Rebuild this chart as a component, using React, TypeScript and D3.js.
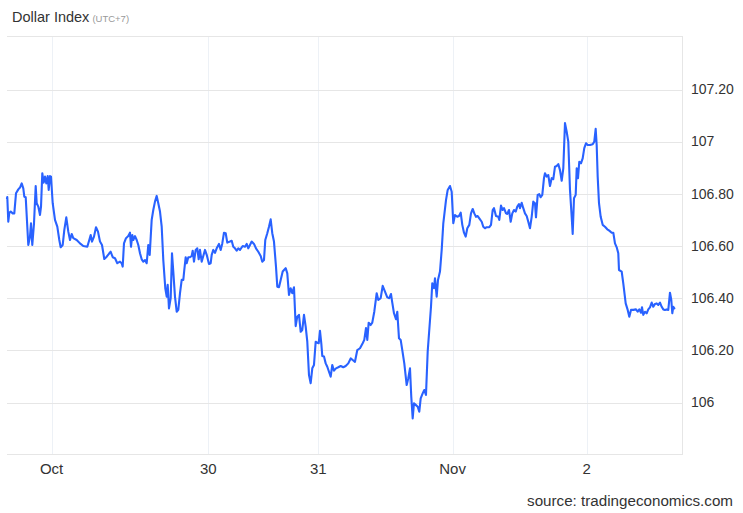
import React from "react";
import * as d3 from "d3";

const timeIndex = [
0,0.13,0.58,1.03,1.66,2.56,3.27,4.04,5.07,5.83,
6.59,7.31,7.76,8.39,9.55,10.31,10.76,11.34,12.11,12.87,
13.32,14.04,14.8,15.25,15.83,16.46,17.04,17.62,18.25,18.7,
19.28,19.73,20.49,21.52,22.56,23.45,24.08,24.98,25.69,26.59,
27.49,28.25,29.01,29.73,31.25,32.73,34.21,36.01,36.9,37.53,
38.11,39.01,39.91,40.8,41.7,42.6,43.63,44.71,45.87,46.5,
47.4,48.43,49.46,50.67,51.43,51.88,52.46,53.36,54.39,55.15,
55.6,56.18,56.63,57.4,58.16,58.88,59.64,60.4,61.12,61.88,
62.64,63.36,63.99,64.88,65.6,66.36,67.13,67.84,68.61,69.37,
70.09,70.98,71.61,72.06,72.64,73.4,73.99,74.57,75.33,76.1,
76.81,77.58,78.34,79.06,79.5,80.13,80.58,81.3,82.06,82.82,
83.27,83.85,84.61,85.33,85.96,86.54,87.3,88.02,88.78,89.55,
90.58,91.34,91.79,92.51,93.27,94.03,95.06,95.82,96.54,97.3,
98.07,98.78,99.99,100.76,101.47,102.24,103,103.72,104.48,105.69,
106.72,107.48,108.2,108.96,109.72,110.76,111.65,112.69,113.76,114.48,
115.24,115.82,116.72,117.48,118.24,118.96,119.72,120.62,121.21,121.97,
122.73,123.63,
124.97,125.69,126.45,127.21,127.93,128.69,129.45,130.17,130.93,131.7,
132.41,133.18,133.94,134.66,135.42,136.18,136.9,137.66,138.42,139.14,
139.77,140.35,140.94,141.39,142.15,142.91,143.63,144.39,145.15,145.87,
146.63,147.53,148.56,149.64,150.8,151.88,153.04,154.12,155.01,156.04,
157.08,158.29,159.5,160.22,160.98,161.56,162.19,163.09,163.8,164.7,
165.78,166.5,167.57,168.47,169.5,170.53,171.43,172.19,172.77,173.54,
174.43,175.02,175.78,176.54,177.26,178.16,179.23,179.95,180.71,181.29,
181.92,182.5,183.4,184.16,184.88,185.51,186.4,187.12,187.88,188.65,
189.36,190.13,190.71,191.47,191.92,192.68,193.27,194.16,194.93,
195.65,196.86,197.62,198.65,199.41,200.13,200.89,201.92,202.68,203.45,
204.17,204.93,205.69,206.41,207.31,208.07,208.83,209.55,210.31,211.07,
211.79,212.87,213.58,214.35,215.11,216.28,217.04,217.8,218.38,219.28,
220.31,220.76,221.52,222.28,222.87,223.76,224.35,225.11,225.87,226.59,
227.35,228.11,228.83,229.59,230.04,230.8,231.52,232.28,233.04,233.76,
234.52,235.28,236,236.76,237.21,237.97,238.69,239.32,240.04,240.8,
241.25,242.01,242.73,243.49,244.25,244.97,245.74,246.5,247.22,247.98,
248.74,249.46,250.22,250.98,251.7,252.46,253.22,253.67,254.26,255.02,
255.47,256.05,256.63,257.39,258.15,258.87,259.64,260.4,261.43,262.64,
263.36,263.98,264.43,264.88,265.47,266.23,267.12,268.15,269.19,270.09,
271.16,271.88,272.64,273.41,274.12,
274.44,275.65,276.36,277.44,278.34,279.06,279.82,280.85,282.06,282.82,
283.54,284.3,284.75,285.33,286.09,286.85,287.57,288.33,289.1,289.81,
290.58,291.34,292.06,292.82,293.58,294.3,295.06,295.82,296.54,297.3,
297.89,298.34,298.79,299.24
];

const dollarIndex = [
106.783,106.788,106.693,106.727,106.732,106.725,106.725,106.802,106.817,106.824,
106.84,106.821,106.789,106.787,106.604,106.636,106.687,106.604,106.687,106.83,
106.764,106.751,106.719,106.751,106.879,106.843,106.866,106.84,106.868,106.815,
106.868,106.866,106.764,106.7,106.674,106.623,106.595,106.604,106.661,106.71,
106.655,106.623,106.646,106.63,106.623,106.61,106.6,106.597,106.623,106.642,
106.617,106.636,106.672,106.655,106.617,106.604,106.55,106.559,106.572,106.578,
106.557,106.553,106.534,106.54,106.534,106.521,106.61,106.63,106.638,106.651,
106.597,106.642,106.623,106.638,106.623,106.604,106.572,106.549,106.54,106.546,
106.534,106.604,106.566,106.7,106.738,106.77,106.792,106.764,106.732,106.674,
106.546,106.438,106.406,106.451,106.361,106.4,106.572,106.502,106.406,106.348,
106.355,106.419,106.47,106.47,106.508,106.557,106.534,106.557,106.557,106.562,
106.582,106.54,106.585,106.591,106.549,106.585,106.54,106.562,106.585,106.566,
106.531,106.534,106.566,106.585,106.574,106.591,106.608,106.585,106.61,106.651,
106.649,106.613,106.617,106.62,106.597,106.591,106.582,106.591,106.585,106.6,
106.597,106.608,106.591,106.604,106.617,106.608,106.591,106.578,106.562,106.54,
106.546,106.623,106.649,106.674,106.702,106.649,106.617,106.521,106.444,106.442,
106.47,106.502,
106.515,106.495,106.412,106.438,106.419,106.442,106.293,106.329,106.336,106.271,
106.278,106.336,106.291,106.233,106.105,106.074,106.131,106.144,106.233,106.229,
106.227,106.275,106.227,106.178,106.176,106.15,106.137,106.118,106.099,106.144,
106.122,106.131,106.135,106.14,106.135,106.14,106.15,106.169,106.163,106.156,
106.201,106.208,106.227,106.24,106.285,106.24,106.306,106.297,106.306,106.348,
106.419,106.393,106.4,106.447,106.425,106.403,106.4,106.416,106.383,106.342,
106.319,106.348,106.246,106.24,106.201,106.15,106.067,106.093,106.131,106.022,
105.939,105.997,105.99,105.984,105.965,106.016,106.035,106.048,106.029,106.195,
106.278,106.367,106.457,106.438,106.476,106.406,106.47,106.502,106.585,
106.687,106.776,106.815,106.83,106.808,106.687,106.719,106.712,106.715,106.728,
106.681,106.651,106.636,106.668,106.681,106.725,106.742,106.725,106.712,106.715,
106.706,106.693,106.674,106.668,106.672,106.672,106.681,106.738,106.745,106.715,
106.712,106.7,106.755,106.738,106.745,106.725,106.723,106.738,106.693,106.725,
106.738,106.732,106.751,106.761,106.745,106.766,106.745,106.725,106.715,106.693,
106.668,106.712,106.77,106.764,106.71,106.796,106.799,106.787,106.796,106.86,
106.879,106.866,106.872,106.83,106.86,106.856,106.904,106.907,106.914,106.891,
106.85,106.898,107.071,107.038,107,106.815,106.712,106.646,106.783,106.796,
106.898,106.86,106.923,106.917,106.936,106.975,106.994,106.987,106.987,106.99,
107,107.049,106.987,106.866,106.764,106.712,106.681,106.674,106.664,106.659,
106.651,106.651,106.61,106.595,106.572,
106.508,106.502,106.457,106.38,106.355,106.329,106.355,106.355,106.357,106.348,
106.357,106.344,106.365,106.336,106.348,106.342,106.357,106.365,106.383,106.367,
106.378,106.38,106.374,106.383,106.367,106.357,106.355,106.357,106.355,106.421,
106.393,106.342,106.367,106.361
];

const xTickLabels = ["Oct", "30", "31", "Nov", "2"];
const xTickPositions = [20, 90.3, 139.6, 199.8, 259.9];

const yTickValues = [106, 106.2, 106.4, 106.6, 106.8, 107, 107.2];
const yTickLabels = ["106", "106.20", "106.40", "106.60", "106.80", "107", "107.20"];

const titleText = "Dollar Index";
const subtitleText = "(UTC+7)";
const sourceText = "source: tradingeconomics.com";

export default function App() {
  const W = 743, H = 513;
  const plotLeft = 7, plotRight = 682, plotTop = 36, plotBottom = 454;
  const x = d3.scaleLinear().domain([0, 300]).range([7, 676]);
  const y = d3.scaleLinear().domain([106, 107.2]).range([402.5, 89.5]);
  const data = timeIndex.map((t, i) => [t, dollarIndex[i]] as [number, number]);
  const line = d3.line<[number, number]>().x(d => x(d[0])).y(d => y(d[1]));
  const font = "'Liberation Sans', Arial, Helvetica, sans-serif";

  return (
    <svg width={W} height={H} style={{ position: "absolute", left: 0, top: 0, background: "#fff" }} fontFamily={font}>
      <rect x={0} y={0} width={W} height={H} fill="#fff" />
      {xTickPositions.map((t, i) => (
        <line key={"vg" + i} x1={Math.round(x(t)) + 0.5} x2={Math.round(x(t)) + 0.5} y1={plotTop} y2={plotBottom} stroke="#edf1f6" strokeWidth={1} />
      ))}
      <line x1={plotLeft} x2={plotRight} y1={plotTop + 0.5} y2={plotTop + 0.5} stroke="#e6e6e6" />
      {yTickValues.map((v, i) => (
        <line key={"hg" + i} x1={plotLeft} x2={plotRight} y1={Math.round(y(v)) + 0.5} y2={Math.round(y(v)) + 0.5} stroke="#e6e6e6" />
      ))}
      <line x1={plotLeft} x2={plotRight} y1={plotBottom + 0.5} y2={plotBottom + 0.5} stroke="#e6e6e6" />
      <line x1={plotRight + 0.5} x2={plotRight + 0.5} y1={plotTop} y2={plotBottom + 1} stroke="#e6e6e6" />
      <path d={line(data) || ""} fill="none" stroke="#2962ff" strokeWidth={2.1} strokeLinejoin="round" strokeLinecap="round" />
      {yTickValues.map((v, i) => (
        <text key={"yl" + i} x={691} y={y(v) + 4.8} fontSize={14} fill="#333">{yTickLabels[i]}</text>
      ))}
      {xTickPositions.map((t, i) => (
        <text key={"xl" + i} x={x(t)} y={474} fontSize={15} fill="#333" textAnchor="middle">{xTickLabels[i]}</text>
      ))}
      <text x={12} y={22.3} fontSize={14.5} fill="#333">
        {titleText}
        <tspan fontSize={9.5} fill="#999" dx={3}>{subtitleText}</tspan>
      </text>
      <text x={733} y={506} fontSize={15.2} fill="#333" textAnchor="end">{sourceText}</text>
    </svg>
  );
}
